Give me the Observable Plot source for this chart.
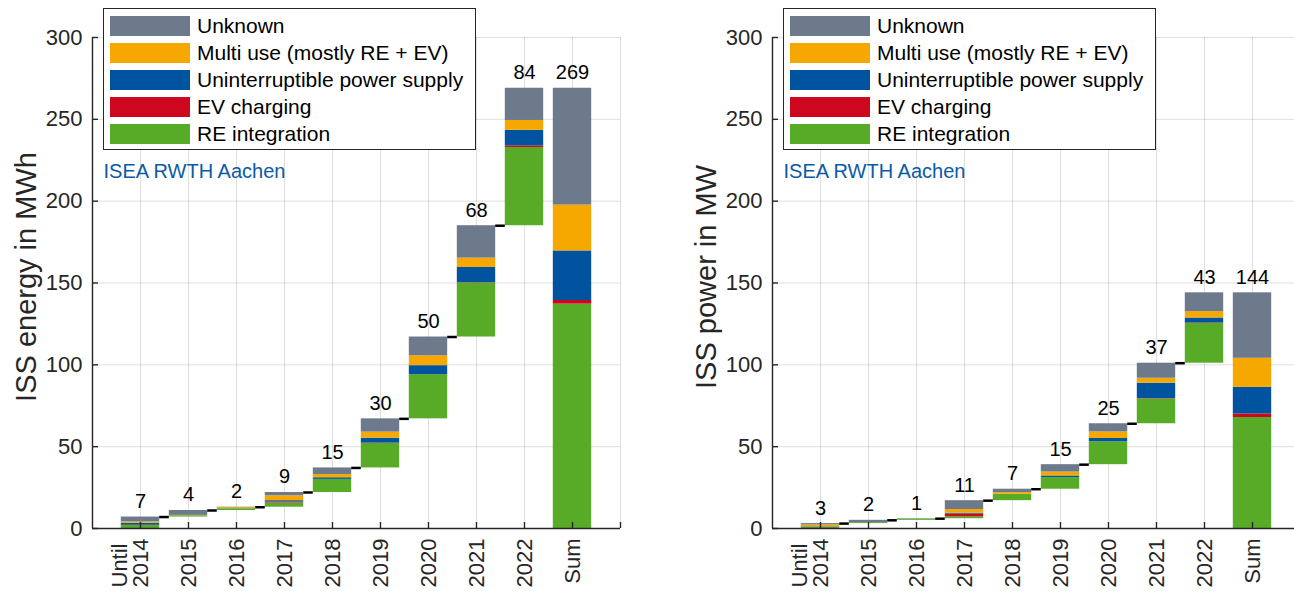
<!DOCTYPE html>
<html><head><meta charset="utf-8">
<script src="https://cdn.jsdelivr.net/npm/d3@7"></script>
<script src="https://cdn.jsdelivr.net/npm/@observablehq/plot@0.6"></script>
<style>
body{margin:0;background:#fff;font-family:"Liberation Sans",Arial,sans-serif;}
#wrap{position:relative;width:1294px;height:594px;overflow:hidden;background:#fff;}
.panel{position:absolute;top:0;width:680px;height:594px;}
.panel svg{max-width:none !important;}
.legend{position:absolute;top:8px;width:373px;height:142px;border:1px solid #262626;background:#fff;box-sizing:border-box;padding:3px 0 0 6px;}
.row{display:flex;align-items:center;height:27px;font-size:21px;color:#000;white-space:nowrap;}
.sw{width:80px;height:20px;margin-right:7px;flex:none;}
</style></head><body><div id="wrap"></div>
<script>
// Categories and labels
const years = ["2014","2015","2016","2017","2018","2019","2020","2021","2022"];
const sumLabel = "Sum";
const firstPrefix = "Until";
const seriesNames = ["RE integration","EV charging","Uninterruptible power supply","Multi use (mostly RE + EV)","Unknown"];
const seriesColors = ["#57AB27","#CC071E","#00549F","#F6A800","#6C7A8B"];
const yTicks = [0,50,100,150,200,250,300];

// Left: ISS energy in MWh (per year increments)
const energyRE      = [1.8, 0.8, 1.1, 2.6, 8, 15, 27, 33, 47.8];
const energyEV      = [0.2, 0,   0,   0.6, 0, 0.2, 0, 0.2, 1];
const energyUPS     = [1.2, 0,   0,   0.8, 1, 3, 5.5, 9.3, 9.5];
const energyMulti   = [0.8, 0.2, 0.6, 3,   2, 3.7, 6, 5.7, 6];
const energyUnknown = [3,   3,   0.3, 2,   4, 8.1, 11.5, 19.8, 19.7];

// Right: ISS power in MW (per year increments)
const powerRE      = [0.6, 0.6, 0.8, 1.2, 4, 7.1, 14, 15.2, 24.3];
const powerEV      = [0.1, 0,   0,   1.6, 0, 0,   0,  0.2, 0.3];
const powerUPS     = [0.3, 0,   0,   0.5, 0, 1,   2,  9.4, 3];
const powerMulti   = [1.2, 0,   0,   2.3, 1, 2.4, 4,  3,   3.9];
const powerUnknown = [0.8, 1.4, 0.2, 5.4, 2, 4.5, 5,  9.2, 11.5];

const FONT = "Liberation Sans, Arial, sans-serif";
const AX = "#262626";

function makePanel(series, ylabel, left) {
  const n = years.length;
  const totals = d3.range(n).map(i => d3.sum(series, s => s[i]));
  const sums = series.map(s => d3.sum(s));
  const rects = [], connectors = [], labels = [];
  let base = 0;
  for (let i = 0; i <= n; i++) {
    const vals = i < n ? series.map(s => s[i]) : sums;
    let y = i < n ? base : 0;
    const pos = i + 1;
    vals.forEach((v, k) => { rects.push({pos, y1: y, y2: y + v, cat: seriesNames[k]}); y += v; });
    labels.push({pos, y, text: String(Math.round(i < n ? totals[i] : d3.sum(totals)))});
    if (i < n) { base = y; if (i < n - 1) connectors.push({pos, y}); }
  }
  const tickLabels = years.concat([sumLabel]).map((t, i) => ({pos: i + 1, t}));
  const svg = Plot.plot({
    width: 680, height: 594,
    marginLeft: 92, marginRight: 60, marginTop: 37, marginBottom: 66,
    style: {fontFamily: FONT, background: "transparent", color: AX, overflow: "visible", maxWidth: "none"},
    x: {domain: [0, 11], axis: null},
    y: {domain: [0, 300], axis: null},
    color: {domain: seriesNames, range: seriesColors},
    marks: [
      Plot.ruleX(d3.range(1, 12), {stroke: AX, strokeOpacity: 0.15}),
      Plot.ruleY(yTicks.slice(1), {stroke: AX, strokeOpacity: 0.15}),
      Plot.rect(rects, {x1: d => d.pos - 0.4, x2: d => d.pos + 0.4, y1: "y1", y2: "y2", fill: "cat"}),
      Plot.ruleY(connectors, {y: "y", x1: d => d.pos + 0.4, x2: d => d.pos + 0.6, stroke: "#000", strokeWidth: 2.5}),
      Plot.text(labels, {x: "pos", y: "y", text: "text", dy: -9, lineAnchor: "bottom", fontSize: 20, fill: "#000"}),
      Plot.ruleX([0], {stroke: AX, strokeWidth: 1.4}),
      Plot.ruleY([0], {stroke: AX, strokeWidth: 1.4}),
      Plot.ruleX(d3.range(1, 12), {x: d => d, y1: 0, y2: 0, insetTop: -6, stroke: AX, strokeWidth: 1.4}),
      Plot.ruleY(yTicks, {y: d => d, x1: 0, x2: 0, insetRight: -6, stroke: AX, strokeWidth: 1.4}),
      Plot.text(yTicks, {x: 0, y: d => d, text: d => String(d), textAnchor: "end", dx: -10, fontSize: 22, fill: AX}),
      Plot.text(tickLabels, {x: "pos", y: 0, text: "t", rotate: -90, textAnchor: "end", lineAnchor: "middle", dy: 10, fontSize: 22, fill: AX}),
      Plot.text([firstPrefix], {x: 1, y: 0, text: d => d, rotate: -90, textAnchor: "start", lineAnchor: "middle", dy: 59, dx: -21, fontSize: 22, fill: AX}),
      Plot.text([ylabel], {frameAnchor: "left", text: d => d, rotate: -90, textAnchor: "middle", lineAnchor: "middle", dx: -66, dy: -6, fontSize: 29, fill: AX}),
      Plot.text(["ISEA RWTH Aachen"], {frameAnchor: "top-left", text: d => d, textAnchor: "start", lineAnchor: "top", dx: 11, dy: 126, fontSize: 20, fill: "#0B5AA8"})
    ]
  });
  svg.style.maxWidth = "none";
  const holder = document.createElement("div");
  holder.className = "panel";
  holder.style.left = left + "px";
  holder.appendChild(svg);
  const leg = document.createElement("div");
  leg.className = "legend";
  leg.style.left = "103px";
  [4, 3, 2, 1, 0].forEach(k => {
    const r = document.createElement("div");
    r.className = "row";
    const sw = document.createElement("div");
    sw.className = "sw";
    sw.style.background = seriesColors[k];
    r.appendChild(sw);
    r.appendChild(document.createTextNode(seriesNames[k]));
    leg.appendChild(r);
  });
  holder.appendChild(leg);
  document.getElementById("wrap").appendChild(holder);
}

makePanel([energyRE, energyEV, energyUPS, energyMulti, energyUnknown], "ISS energy in MWh", 0);
makePanel([powerRE, powerEV, powerUPS, powerMulti, powerUnknown], "ISS power in MW", 680);
</script></body></html>
